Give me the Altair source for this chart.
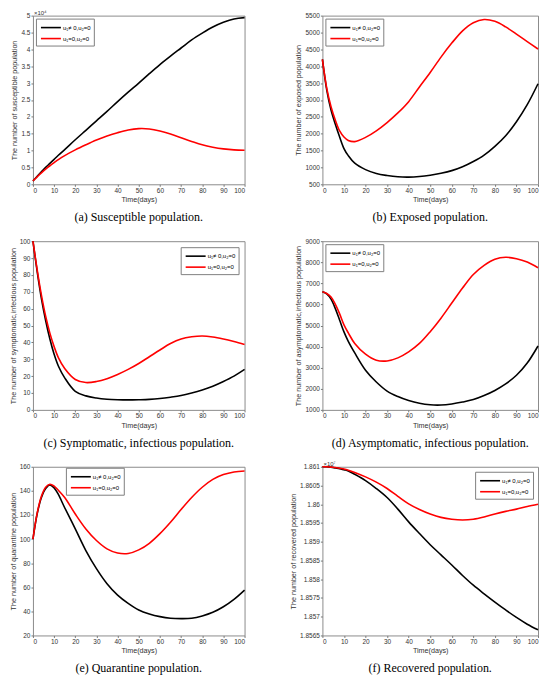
import pandas as pd
import altair as alt

# time grid (days) shared by every panel
days = [0, 2, 4, 6, 8, 10, 12, 15, 20, 25, 30, 35, 40, 45, 50, 55, 60, 65, 70, 75, 80, 85, 90, 95, 100]

series_names = ["u₁≠ 0,u₂=0", "u₁=0,u₂=0"]
series_colors = ["#000000", "#ff0000"]

# (a) susceptible, units of 10^4
susceptible_ctrl = [0.10, 0.24, 0.37, 0.50, 0.62, 0.74, 0.86, 1.03, 1.32, 1.60, 1.88, 2.16, 2.45,
                    2.73, 3.00, 3.28, 3.55, 3.80, 4.04, 4.28, 4.48, 4.66, 4.80, 4.90, 4.94]
susceptible_free = [0.10, 0.22, 0.34, 0.45, 0.55, 0.64, 0.73, 0.85, 1.02, 1.17, 1.31, 1.43, 1.53,
                    1.61, 1.65, 1.64, 1.58, 1.49, 1.38, 1.27, 1.17, 1.10, 1.05, 1.02, 1.01]

# (b) exposed
exposed_ctrl = [4200, 3300, 2700, 2280, 1900, 1560, 1350, 1125, 935, 820, 760, 722, 712,
                730, 770, 828, 905, 1020, 1175, 1365, 1625, 1940, 2355, 2860, 3480]
exposed_free = [4200, 3350, 2800, 2400, 2080, 1900, 1800, 1765, 1890, 2085, 2330, 2615, 2950,
                3385, 3815, 4270, 4685, 5050, 5290, 5385, 5330, 5165, 4950, 4730, 4510]

# (c) symptomatic, infectious
symptomatic_ctrl = [100, 82, 66, 53, 42, 33, 26, 19, 11, 8.3, 7.0, 6.3, 6.0,
                    5.9, 6.0, 6.2, 6.7, 7.5, 8.5, 10.0, 11.8, 14.0, 16.8, 20.0, 24.0]
symptomatic_free = [100, 83, 68, 55.5, 45.5, 37.5, 31, 24.5, 18, 16.2, 16.8, 18.5, 21,
                    24, 27.5, 31.5, 35.5, 39.3, 42, 43.3, 43.8, 43.2, 42, 40.5, 38.8]

# (d) asymptomatic, infectious
asymptomatic_ctrl = [6600, 6500, 6250, 5800, 5250, 4700, 4250, 3700, 2880, 2320, 1890, 1630, 1440,
                     1310, 1240, 1230, 1280, 1370, 1490, 1680, 1920, 2230, 2640, 3220, 4030]
asymptomatic_free = [6600, 6520, 6350, 6000, 5550, 5030, 4650, 4150, 3640, 3355, 3320, 3466, 3750,
                     4150, 4710, 5350, 6065, 6780, 7420, 7850, 8140, 8235, 8170, 8010, 7740]

# (e) quarantine
quarantine_ctrl = [100, 121, 134.5, 142, 145, 142.5, 137, 126, 108.5, 90.5, 75.5, 63, 53.5,
                   46.6, 41.1, 37.8, 35.6, 34.3, 34.0, 34.3, 36.2, 39.2, 43.8, 49.9, 57.6]
quarantine_free = [100, 121.5, 135.5, 143, 145.5, 144, 140.5, 134.5, 120.8, 108.4, 98.8, 91.9, 88.4,
                   88.0, 91.0, 96.5, 104.5, 114.0, 124.5, 134.5, 143.0, 149.5, 153.5, 155.7, 156.5]

# (f) recovered, units of 10^7
recovered_ctrl = [1.86100, 1.86100, 1.86099, 1.86097, 1.86095, 1.86092, 1.86089, 1.86080, 1.86063,
                  1.86042, 1.86018, 1.85987, 1.85953, 1.85922, 1.85892, 1.85865, 1.85838, 1.85810,
                  1.85784, 1.85761, 1.85739, 1.85718, 1.85698, 1.85680, 1.85665]
recovered_free = [1.86100, 1.86100, 1.86099, 1.86098, 1.86096, 1.86094, 1.86091, 1.86085, 1.86073,
                  1.86059, 1.86042, 1.86021, 1.86001, 1.85986, 1.85974, 1.85965, 1.85960, 1.85958,
                  1.85960, 1.85966, 1.85974, 1.85981, 1.85987, 1.85994, 1.86000]

x_ticks = [0, 10, 20, 30, 40, 50, 60, 70, 80, 90, 100]
ticks_a = [0, 0.5, 1, 1.5, 2, 2.5, 3, 3.5, 4, 4.5, 5]
ticks_b = [500, 1000, 1500, 2000, 2500, 3000, 3500, 4000, 4500, 5000, 5500]
ticks_c = [0, 10, 20, 30, 40, 50, 60, 70, 80, 90, 100]
ticks_d = [1000, 2000, 3000, 4000, 5000, 6000, 7000, 8000, 9000]
ticks_e = [20, 40, 60, 80, 100, 120, 140, 160]
ticks_f = [1.8565, 1.857, 1.8575, 1.858, 1.8585, 1.859, 1.8595, 1.86, 1.8605, 1.861]

SANS = "Liberation Sans"


def panel(ctrl, free, y_title, y_ticks, caption, legend_opts, width, exponent=None):
    n = len(days)
    df = pd.DataFrame({
        "day": days * 2,
        "value": ctrl + free,
        "series": [series_names[0]] * n + [series_names[1]] * n,
    })
    # legend line drawn twice the symbol size wide, so rows stay compact
    base = alt.Chart(df).mark_line(strokeWidth=1.6, interpolate="catmull-rom").encode(
        x=alt.X("day:Q", scale=alt.Scale(domain=[0, 100], nice=False),
                axis=alt.Axis(values=x_ticks, title="Time(days)")),
        y=alt.Y("value:Q", scale=alt.Scale(domain=[y_ticks[0], y_ticks[-1]], nice=False, zero=False),
                axis=alt.Axis(values=y_ticks, title=y_title, format=".6~g")),
        color=alt.Color("series:N", scale=alt.Scale(domain=series_names, range=series_colors),
                        legend=alt.Legend(title=None, symbolType="M-2,0H2", symbolSize=100,
                                          symbolStrokeWidth=1.6, symbolOffset=6, labelOffset=6,
                                          labelFontSize=6, labelFont=SANS,
                                          strokeColor="#808080", fillColor="white", padding=3,
                                          rowPadding=1, labelLimit=80, **legend_opts)),
    )
    black = base.transform_filter(alt.datum.series == series_names[0])
    red = base.transform_filter(alt.datum.series == series_names[1])
    layers = [black, red]
    if exponent:
        tag = alt.Chart(pd.DataFrame({"label": [exponent]})).mark_text(
            align="left", baseline="bottom", fontSize=6, font=SANS, color="#333"
        ).encode(text="label:N", x=alt.value(1), y=alt.value(0))
        layers.append(tag)
    return alt.layer(*layers).properties(
        width=width, height=169,
        title=alt.TitleParams(caption, orient="bottom", anchor="middle", frame="group",
                              font="Liberation Serif", fontSize=12, fontWeight="normal",
                              color="#000", offset=9),
    )


a = panel(susceptible_ctrl, susceptible_free, "The number of susceptible population", ticks_a,
          "(a) Susceptible population.", {"orient": "top-left", "offset": 3}, 212, "×10⁴")
b = panel(exposed_ctrl, exposed_free, "The number of exposed population", ticks_b,
          "(b) Exposed population.", {"orient": "top-left", "offset": 3}, 216)
c = panel(symptomatic_ctrl, symptomatic_free, "The number of symptomatic,infectious population", ticks_c,
          "(c) Symptomatic, infectious population.", {"orient": "top-right", "offset": 6}, 212)
d = panel(asymptomatic_ctrl, asymptomatic_free, "The number of asymptomatic,infectious population", ticks_d,
          "(d) Asymptomatic, infectious population.", {"orient": "top-left", "offset": 3}, 216)
e = panel(quarantine_ctrl, quarantine_free, "The number of quarantine population", ticks_e,
          "(e) Quarantine population.", {"orient": "none", "legendX": 33, "legendY": 1}, 212)
f = panel(recovered_ctrl, recovered_free, "The number of recovered population", ticks_f,
          "(f) Recovered population.", {"orient": "top-right", "offset": 5}, 216, "×10⁷")

chart = alt.concat(a, b, c, d, e, f, columns=2, bounds="flush",
                   spacing={"row": 57, "column": 78}).resolve_scale(
    color="independent"
).resolve_legend(color="independent").configure_axis(
    labelFont=SANS, labelFontSize=6.5, labelColor="#333",
    titleFont=SANS, titleFontSize=7.2, titleFontWeight="normal", titleColor="#333",
    domain=False, grid=False, tickSize=2, tickColor="#777", labelPadding=1, titlePadding=2,
).configure_view(stroke="#8c8c8c", strokeWidth=1).properties(padding=0)

chart.save("out.html", embed_options={"renderer": "svg", "actions": False})
